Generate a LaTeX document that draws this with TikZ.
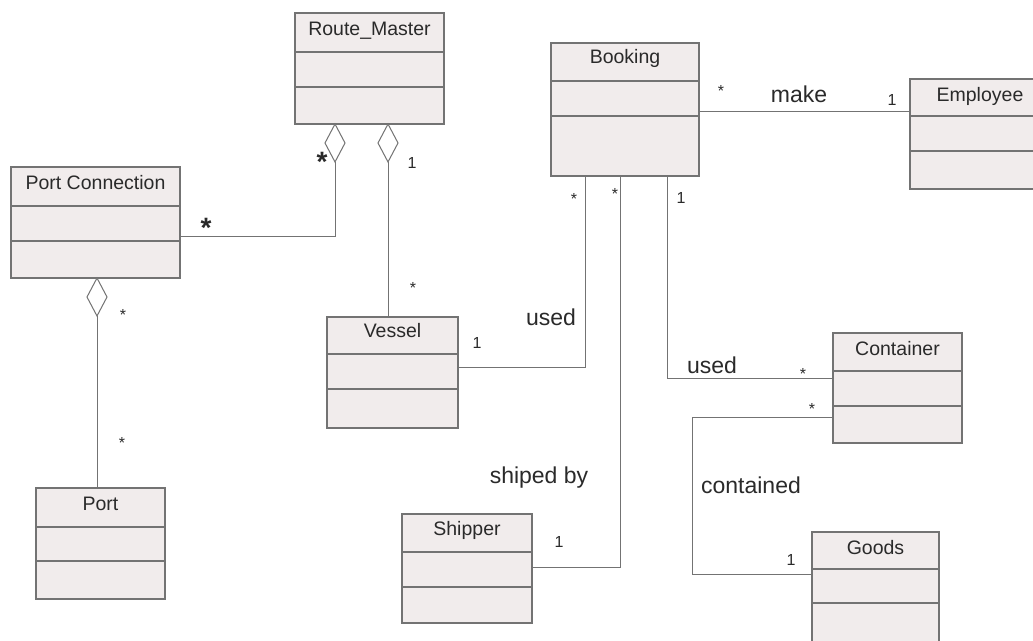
\documentclass[tikz,border=0pt]{standalone}
\usepackage{fontspec}
\setmainfont{Liberation Sans}
\usetikzlibrary{shapes.geometric}
\definecolor{linec}{HTML}{737373}
\definecolor{boxfill}{HTML}{F1ECEC}
\definecolor{txt}{HTML}{2A2A2A}
\tikzset{
  cls/.style={draw=linec, fill=boxfill, line width=1.1pt, inner sep=0pt, outer sep=0pt, rectangle},
  cline/.style={draw=linec, line width=1.1pt},
  conn/.style={draw=linec, line width=1.0pt},
  clslabel/.style={text=txt, inner sep=0pt, anchor=base, font=\fontsize{19.5}{21}\selectfont},
  assoc/.style={text=txt, inner sep=0pt, anchor=base, font=\fontsize{23}{26}\selectfont},
  mult/.style={text=txt, inner sep=0pt, anchor=base, font=\fontsize{16}{18}\selectfont},
  smallstar/.style={text=txt, inner sep=0pt, anchor=center, font=\fontsize{16}{18}\selectfont},
  bigstar/.style={text=txt, inner sep=0pt, anchor=center, font=\bfseries\fontsize{28}{30}\selectfont},
  agg/.style={diamond, draw=linec, fill=white, line width=1.0pt, inner sep=0pt, outer sep=0pt, minimum width=20pt, minimum height=38pt, anchor=north},
}
% name, label, left, top, right, divider1, divider2, bottom, baseline offset
\newcommand{\umlclassbox}[9]{%
  \node[cls, minimum width={#5-#3}, minimum height={#8-#4}, anchor=north west] (#1) at (#3,#4) {};
  \draw[cline] (#3,#6) -- (#5,#6);
  \draw[cline] (#3,#7) -- (#5,#7);
  \node[clslabel] (#1-label) at ({(#3+#5)/2},{#4+#9}) {#2};
}
\begin{document}
\begin{tikzpicture}[x=1pt,y=-1pt]
\useasboundingbox (0,0) rectangle (1033,640);
\clip (0,0) rectangle (1033,640);
\fill[white] (0,0) rectangle (1033,640);

% classes
\umlclassbox{rm}{Route\_Master}{295}{13}{444}{52}{87}{124}{22}
\umlclassbox{pc}{Port Connection}{11}{167}{180}{206}{241}{278}{22}
\umlclassbox{port}{Port}{36}{488}{165}{527}{561}{599}{22}
\umlclassbox{vessel}{Vessel}{327}{317}{458}{354}{389}{428}{20}
\umlclassbox{booking}{Booking}{551}{43}{699}{81}{116}{176}{20}
\umlclassbox{emp}{Employee}{910}{79}{1050}{116}{151}{189}{22}
\umlclassbox{cont}{Container}{833}{333}{962}{371}{406}{443}{22}
\umlclassbox{shipper}{Shipper}{402}{514}{532}{552}{587}{623}{21}
\umlclassbox{goods}{Goods}{812}{532}{939}{569}{603}{660}{22}

% aggregation diamonds
\node[agg] (d1) at (rm.south -| 335,0) {};
\node[agg] (d2) at (rm.south -| 388,0) {};
\node[agg] (d3) at (pc.south -| 97,0) {};

% connectors
\draw[conn] (d1.south) -- (335,236) -- (pc.east |- 0,236);
\draw[conn] (d2.south) -- (vessel.north -| 388,0);
\draw[conn] (d3.south) -- (port.north -| 97,0);
\draw[conn] (booking.east |- 0,111) -- (emp.west |- 0,111);
\draw[conn] (booking.south -| 585,0) -- (585,367) -- (vessel.east |- 0,367);
\draw[conn] (booking.south -| 620,0) -- (620,567) -- (shipper.east |- 0,567);
\draw[conn] (booking.south -| 667,0) -- (667,378) -- (cont.west |- 0,378);
\draw[conn] (cont.west |- 0,417) -- (692,417) -- (692,574) -- (goods.west |- 0,574);

% multiplicities and labels
\node[bigstar] (m1) at (322,162) {*};
\node[mult] (m2) at (412,168) {1};
\node[bigstar] (m3) at (206,228) {*};
\node[smallstar] (m4) at (123,315) {*};
\node[smallstar] (m5) at (122,443) {*};
\node[smallstar] (m6) at (413,288) {*};
\node[smallstar] (m7) at (721,91) {*};
\node[assoc] (l1) at (799,102) {make};
\node[mult] (m8) at (892,105) {1};
\node[smallstar] (m9) at (574,199) {*};
\node[smallstar] (m10) at (615,194) {*};
\node[mult] (m11) at (681,203) {1};
\node[assoc] (l2) at (551,325) {used};
\node[mult] (m12) at (477,348) {1};
\node[assoc] (l3) at (712,373) {used};
\node[smallstar] (m13) at (803,374) {*};
\node[smallstar] (m14) at (812,409) {*};
\node[assoc] (l4) at (539,483) {shiped by};
\node[mult] (m15) at (559,547) {1};
\node[assoc] (l5) at (751,493) {contained};
\node[mult] (m16) at (791,565) {1};
\end{tikzpicture}
\end{document}
